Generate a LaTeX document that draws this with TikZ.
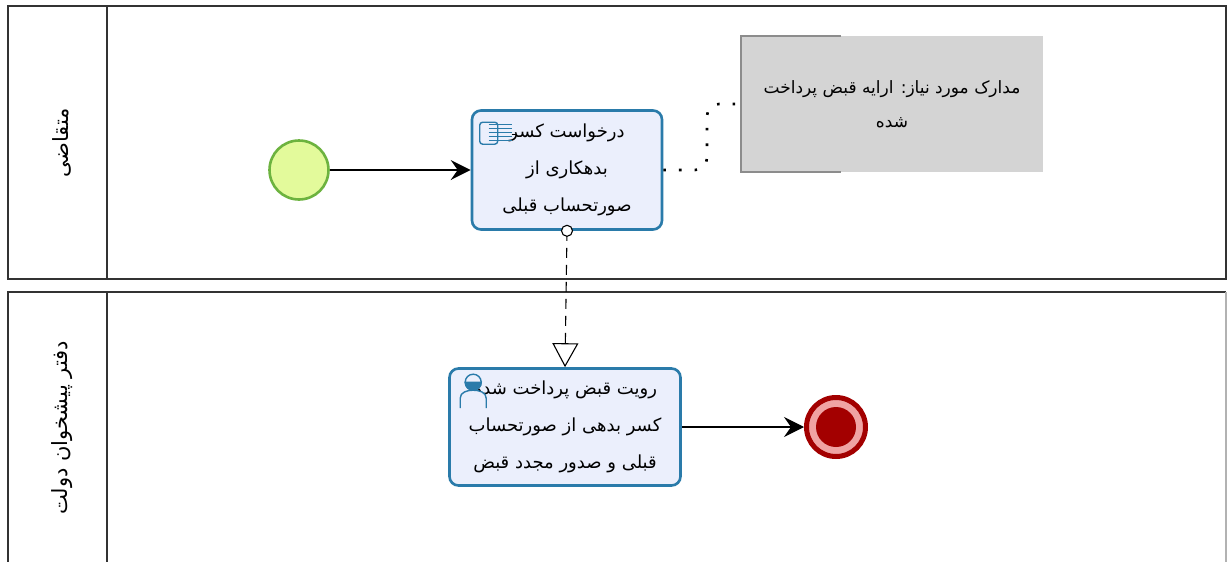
\documentclass[tikz,border=0pt]{standalone}
\usepackage{fontspec}
\newfontfamily\farsi[Script=Arabic]{DejaVu Sans}
\TeXXeTstate=1
\usetikzlibrary{arrows.meta,positioning}
\definecolor{taskfill}{HTML}{EBEFFC}
\definecolor{taskline}{HTML}{2A7BAA}
\definecolor{startfill}{HTML}{E3FA9B}
\definecolor{startline}{HTML}{6DB33F}
\definecolor{endred}{HTML}{A30000}
\definecolor{endpink}{HTML}{F0A3A3}
\definecolor{notefill}{HTML}{D4D4D4}

\begin{document}
\begin{tikzpicture}[x=1pt,y=-1pt,
    pool/.style={draw=black!80,line width=1.6pt},
    lanelabel/.style={rotate=90,font=\farsi\fontsize{21}{25}\selectfont},
    task/.style={draw=taskline,fill=taskfill,line width=2.6pt,rounded corners=9pt,align=center,inner sep=2pt,font=\farsi\fontsize{18}{37}\selectfont},
    flow/.style={line width=1.2pt,-{Stealth[length=20pt,width=20pt,inset=7pt]}},
    msg/.style={line width=1.1pt,dash pattern=on 10pt off 7pt,-{Triangle[open,length=24pt,width=26pt,line width=1.1pt]}},
    assoc/.style={line width=2.6pt,dash pattern=on 2.6pt off 13pt,rounded corners=12pt}]
    \useasboundingbox (0,0) rectangle (1227,562);
    \clip (0,0) rectangle (1227,562);
    \fill[white] (0,0) rectangle (1227,562);
    \draw[pool] (8,6) rectangle (1226,279);
    \draw[pool] (107,6) -- (107,279);
    \draw[pool] (1226,292) -- (8,292) -- (8,570);
    \draw[pool] (107,292) -- (107,570);
    \draw[black!30,line width=1.6pt] (1226,292) -- (1226,570);
    \node[lanelabel] (applicant) at (62,143) {\beginR متقاضی\endR};
    \node[lanelabel] (office) at (62,428) {\beginR دفتر پیشخوان دولت\endR};
    \node[circle,draw=startline,fill=startfill,line width=2.6pt,minimum size=59pt,inner sep=0pt] (start) at (299,170) {};
    \node[task,minimum width=190pt,minimum height=119pt] (request) at (567,170)
        {\beginR درخواست کسر\endR\\\beginR بدهکاری از\endR\\\beginR صورتحساب قبلی\endR};
    \node[task,minimum width=231pt,minimum height=117pt] (review) at (565,427)
        {\beginR رویت قبض پرداخت شده\endR\\\beginR کسر بدهی از صورتحساب\endR\\\beginR قبلی و صدور مجدد قبض\endR};
    \node[circle,draw=endred,fill=endpink,line width=5pt,minimum size=59pt,inner sep=0pt] (finish) at (836,427) {};
    \fill[endred] (finish) circle (20);
    \node[fill=notefill,minimum width=302pt,minimum height=136pt,align=center,font=\farsi\fontsize{17}{34}\selectfont] (docs) at (892,104)
        {\beginR مدارک مورد نیاز: ارایه قبض پرداخت\endR\\\beginR شده\endR};
    \draw[black!45,line width=1.6pt] ([xshift=100pt]docs.north west) -- (docs.north west) -- (docs.south west) -- ([xshift=100pt]docs.south west);
    \draw[flow] (start) -- (request);
    \draw[flow] (review) -- (finish);
    \draw[msg] (request.south) -- (review.north);
    \draw[fill=white,line width=1.1pt] (request.south) circle (5.5);
    \draw[assoc] (request.east) -- (707,170) -- (707,104) -- (docs.west);
    \begin{scope}[shift={(request.north west)},taskline,line width=1.4pt]
        \draw[fill=taskfill,rounded corners=3pt] (9,13) rectangle (27,35);
        \foreach \y in {15,19,23,27,31} \draw (18,\y) -- (41,\y);
        \draw[black,line width=0.8pt] (41,25) -- (45,25);
    \end{scope}
    \begin{scope}[shift={(review.north west)},taskline,line width=1.4pt]
        \draw[fill=taskfill] (12,41) -- (12,31) to[out=90,in=180] (25,23) to[out=0,in=90] (38,31) -- (38,41);
        \draw[fill=taskfill] (25,15) circle (8);
        \draw[fill=taskline] (17,15) arc (180:0:8) -- cycle;
    \end{scope}
\end{tikzpicture}
\end{document}
